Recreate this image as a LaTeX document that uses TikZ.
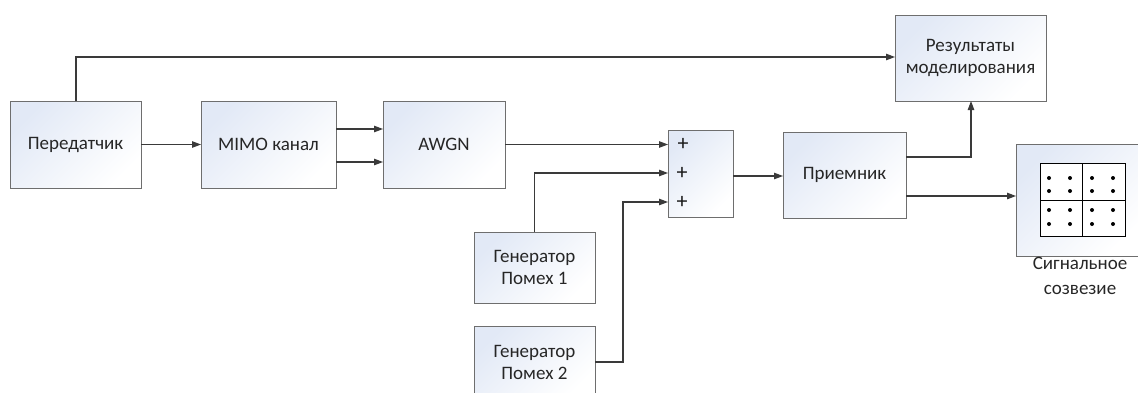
\documentclass[tikz,border=0pt]{standalone}
\usepackage{fontspec}
\setmainfont{Carlito}
\usetikzlibrary{arrows.meta}
\definecolor{edge}{HTML}{6E6E6E}
\definecolor{wire}{HTML}{3A3A3A}
\definecolor{tint}{HTML}{E2E9F6}
\tikzset{
  x=1pt, y=-1pt,
  lbltext/.style={font=\fontsize{19}{22}\selectfont, text=black!85},
  blk/.style={draw=edge, line width=1pt, top color=tint, bottom color=white,
    shading angle=45, rectangle, inner sep=0pt, outer sep=0pt,
    align=center, lbltext},
  wire/.style={draw=wire, line width=1.1pt},
  arr/.style={wire, -{Triangle[length=9pt,width=6.5pt]}},
  plus/.style={font=\fontsize{22}{22}\selectfont, inner sep=0pt, text=black!90},
  dot/.style={circle, fill=black, inner sep=0pt, minimum size=4pt},
}
\begin{document}
\begin{tikzpicture}
\useasboundingbox (0,0) rectangle (1138,392);
\clip (0,0) rectangle (1138,392);

% processing blocks
\node[blk, minimum width=131pt, minimum height=87pt] (tx) at (75.5,144.5) {Передатчик};
\node[blk, minimum width=135pt, minimum height=87pt] (mimo) at (268.5,144.5) {MIMO канал};
\node[blk, minimum width=122pt, minimum height=87pt] (awgn) at (444,144.5) {AWGN};
\node[blk, minimum width=65pt, minimum height=87pt] (sum) at (700.5,173.5) {};
\node[blk, minimum width=123pt, minimum height=86pt] (rx) at (844.5,175) {Приемник};
\node[blk, minimum width=151pt, minimum height=86pt] (res) at (970.5,58) {Результаты\\моделирования};
\node[blk, minimum width=121pt, minimum height=71pt] (gen1) at (534.5,267.5) {Генератор\\Помех 1};
\node[blk, minimum width=121pt, minimum height=72pt] (gen2) at (534.5,362) {Генератор\\Помех 2};
\node[blk, minimum width=126pt, minimum height=112pt] (con) at (1079,200) {};

% adder inputs
\node[plus] (p1) at (683,144) {+};
\node[plus] (p2) at (682,173) {+};
\node[plus] (p3) at (682,202) {+};

% constellation grid
\draw[black, line width=0.8pt, fill=white] (1040,163) rectangle (1125,236);
\draw[black, line width=0.8pt] (1082,163) -- (1082,236) (1040,200) -- (1125,200);
\foreach \cx in {1049,1070,1092,1113}
  \foreach \cy in {178,191,210,224}
    \node[dot] at (\cx,\cy) {};
\node[lbltext, font=\fontsize{19}{25}\selectfont, align=center, anchor=north, inner sep=0pt] (lbl) at (1080,257) {Сигнальное\\созвезие};

% connectors
\draw[arr] (tx.east) -- (mimo.west);
\draw[arr] ([yshift=15.5pt]mimo.east) -- ([yshift=15.5pt]awgn.west);
\draw[arr] ([yshift=-17.5pt]mimo.east) -- ([yshift=-17.5pt]awgn.west);
\draw[arr] (awgn.east) -- (awgn.east -| sum.west);
\draw[arr] (gen1.north) |- (p2 -| sum.west);
\coordinate (g2k) at (623,362);
\draw[arr] (gen2.east) -- (g2k) |- (p3 -| sum.west);
\draw[arr] ([yshift=-2.5pt]sum.east) -- ([yshift=-1pt]rx.west);
\coordinate (txk) at (76,57);
\draw[arr] (tx.north -| txk) -- (txk) -- (txk -| res.west);
\coordinate (rxk) at (971,157);
\draw[arr] (rx.east |- rxk) -- (rxk) -- (rxk |- res.south);
\draw[arr] ([yshift=-21pt]rx.east) -- ([yshift=-21pt]rx.east -| con.west);
\end{tikzpicture}
\end{document}
